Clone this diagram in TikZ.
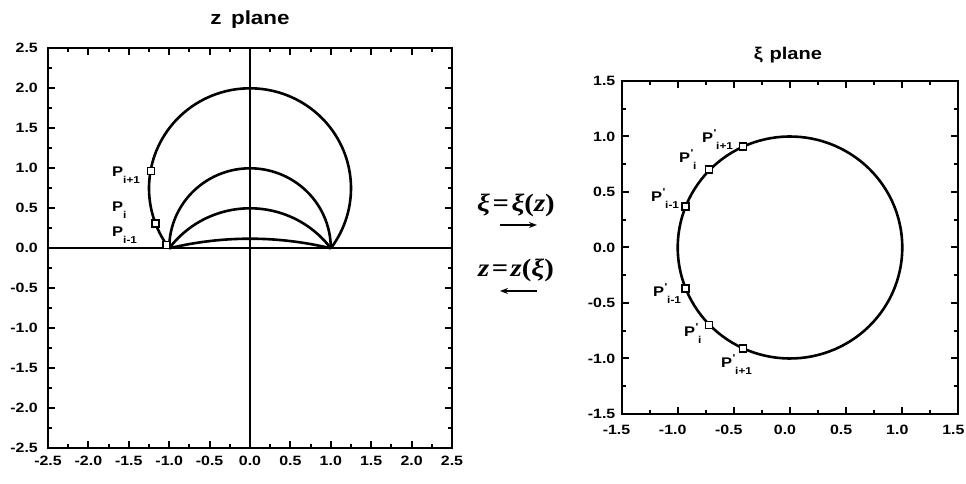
\documentclass[tikz,border=0pt]{standalone}
\usepackage{fontspec}
\usetikzlibrary{arrows.meta,positioning}
\newfontfamily\plotfont{Liberation Sans}[FakeStretch=1.18]
\newfontfamily\mapfont{Liberation Serif}[FakeStretch=1.15]
\newcommand{\sub}[1]{\raisebox{-7pt}{\fontsize{10}{10}\selectfont #1}}
\newcommand{\Pl}[1]{P\sub{#1}}
\newcommand{\Pp}[1]{P\kern.5pt\rlap{\raisebox{6pt}{\fontsize{10}{10}\selectfont '}}\kern2.5pt\sub{#1}}
\newcommand{\iv}[1]{{\itshape #1}}
\newcommand{\eqs}{\kern2.5pt=\kern2.5pt}
\tikzset{
  frame/.style={line width=2pt},
  curve/.style={line width=2.6pt},
  ticklab/.style={font=\plotfont\bfseries\fontsize{13.5}{13.5}\selectfont,inner sep=2pt},
  plab/.style={font=\plotfont\bfseries\fontsize{14}{14}\selectfont,anchor=base west,inner sep=0pt},
  pmark/.style={draw,fill=white,line width=1.6pt,minimum size=7pt,inner sep=0pt},
  maplab/.style={font=\mapfont\bfseries\fontsize{25}{25}\selectfont},
  maparrow/.style={line width=1.8pt,-{Stealth[length=8pt,width=6pt]}}
}
\begin{document}
\begin{tikzpicture}[x=1pt,y=1pt]
\useasboundingbox (0,0) rectangle (966,484);
% z plane
\node[font=\plotfont\bfseries\fontsize{19}{19}\selectfont,anchor=base] (ztitle) at (250,459) {z\hspace{0.5em}plane};
\begin{scope}[shift={(250pt,235.7pt)},x=80.8pt,y=80pt]
\draw[frame] (-2.5,-2.5) rectangle (2.5,2.5);
\foreach \v in {-2.25,-1.75,...,2.25} {
  \draw[frame] (\v,-2.5) -- ++(0,4pt) (\v,2.5) -- ++(0,-4pt);
  \draw[frame] (-2.5,\v) -- ++(4pt,0) (2.5,\v) -- ++(-4pt,0);
}
\foreach \v in {-2,-1.5,...,2} {
  \draw[frame] (\v,-2.5) -- ++(0,7pt) (\v,2.5) -- ++(0,-7pt);
  \draw[frame] (-2.5,\v) -- ++(7pt,0) (2.5,\v) -- ++(-7pt,0);
}
\foreach \v [count=\i] in {-2.5,-2.0,-1.5,-1.0,-0.5,0.0,0.5,1.0,1.5,2.0,2.5} {
  \node[ticklab,anchor=north] (zx\i) at ([yshift=-6pt]\v,-2.5) {\v};
  \node[ticklab,anchor=east] (zy\i) at ([xshift=-8pt]-2.5,\v) {\v};
}
\draw[line width=2pt] (-2.5,0) -- (2.5,0);
\draw[line width=1.3pt] (0,-2.5) -- (0,2.5);
\draw[curve] plot[domain=-36.87:216.87,samples=100] ({1.25*cos(\x)},{0.75+1.25*sin(\x)});
\draw[curve] plot[domain=0:180,samples=80] ({cos(\x)},{sin(\x)});
\draw[curve] plot[domain=36.87:143.13,samples=60] ({1.25*cos(\x)},{-0.75+1.25*sin(\x)});
\draw[curve] plot[domain=76.32:103.68,samples=40] ({4.227*cos(\x)},{-4.107+4.227*sin(\x)});
\node[pmark] (zp3) at (-1.225,0.966) {};
\node[pmark] (zp2) at (-1.167,0.31) {};
\node[pmark] (zp1) at (-1.03,0.04) {};
\end{scope}
\node[plab] (zl3) at (112,307) {\Pl{i+1}};
\node[plab] (zl2) at (112,272) {\Pl{i}};
\node[plab] (zl1) at (112,247) {\Pl{i-1}};
% mapping
\node[maplab] (fwd) at (516,279) {\iv{ξ}\eqs\iv{ξ}(\iv{z})};
\coordinate (fwdA) at (500,259);
\coordinate (fwdB) at (537,259);
\draw[maparrow] (fwdA) -- (fwdB);
\node[maplab] (bwd) at (516,214) {\iv{z}\eqs\iv{z}(\iv{ξ})};
\coordinate (bwdA) at (537,193);
\coordinate (bwdB) at (500,193);
\draw[maparrow] (bwdA) -- (bwdB);
% xi plane
\node[font=\plotfont\bfseries\fontsize{17}{17}\selectfont,anchor=base] (xititle) at (788,424) {ξ\hspace{0.4em}plane};
\begin{scope}[shift={(790pt,236.5pt)},x=112.3pt,y=111pt]
\draw[frame] (-1.5,-1.5) rectangle (1.5,1.5);
\foreach \v in {-1.25,-0.75,...,1.25} {
  \draw[frame] (\v,-1.5) -- ++(0,4pt) (\v,1.5) -- ++(0,-4pt);
  \draw[frame] (-1.5,\v) -- ++(4pt,0) (1.5,\v) -- ++(-4pt,0);
}
\foreach \v in {-1,-0.5,...,1} {
  \draw[frame] (\v,-1.5) -- ++(0,7pt) (\v,1.5) -- ++(0,-7pt);
  \draw[frame] (-1.5,\v) -- ++(7pt,0) (1.5,\v) -- ++(-7pt,0);
}
\foreach \v [count=\i] in {-1.5,-1.0,-0.5,0.0,0.5,1.0,1.5} {
  \node[ticklab,anchor=north] (xx\i) at ([xshift=-5pt,yshift=-9pt]\v,-1.5) {\v};
  \node[ticklab,anchor=east] (xy\i) at ([xshift=-4pt]-1.5,\v) {\v};
}
\draw[curve] plot[domain=0:360,samples=120] ({cos(\x)},{sin(\x)});
\node[pmark] (xp3) at (-0.42,0.91) {};
\node[pmark] (xp2) at (-0.72,0.70) {};
\node[pmark] (xp1) at (-0.93,0.37) {};
\node[pmark] (xq1) at (-0.93,-0.37) {};
\node[pmark] (xq2) at (-0.72,-0.70) {};
\node[pmark] (xq3) at (-0.42,-0.91) {};
\end{scope}
\node[plab] (xl3) at (702,341) {\Pp{i+1}};
\node[plab] (xl2) at (679,321) {\Pp{i}};
\node[plab] (xl1) at (651,282) {\Pp{i-1}};
\node[plab] (xm1) at (653,187) {\Pp{i-1}};
\node[plab] (xm2) at (684,147) {\Pp{i}};
\node[plab] (xm3) at (721,116) {\Pp{i+1}};
\end{tikzpicture}
\end{document}
